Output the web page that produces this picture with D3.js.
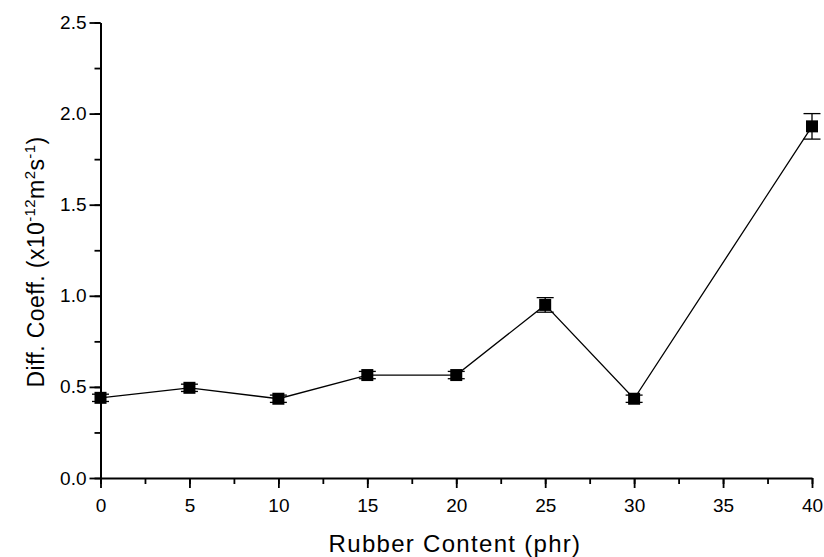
<!DOCTYPE html>
<html>
<head>
<meta charset="utf-8">
<script src="https://cdn.jsdelivr.net/npm/d3@7"></script>
<style>
  body { margin: 0; background: #fff; }
  text { font-family: "Liberation Sans", Arial, sans-serif; fill: #000; }
</style>
</head>
<body>
<svg id="canvas" width="824" height="557"></svg>
<script>
// data
const rubber = [0, 5, 10, 15, 20, 25, 30, 40];
const diffCoeff = [0.44, 0.495, 0.435, 0.565, 0.565, 0.95, 0.435, 1.93];
const errBar = [0.02, 0.02, 0.02, 0.02, 0.02, 0.04, 0.02, 0.07];
const xTicks = [0, 5, 10, 15, 20, 25, 30, 35, 40];
const yTicks = [0.0, 0.5, 1.0, 1.5, 2.0, 2.5];

const svg = d3.select('#canvas');
const x = d3.scaleLinear().domain([0, 40]).range([100.5, 812]);
const y = d3.scaleLinear().domain([0, 2.5]).range([478, 22.5]);

// minor ticks first
svg.append('g')
    .attr('transform', 'translate(0,478)')
    .call(d3.axisBottom(x).tickValues(d3.range(0, 40.1, 2.5)).tickSize(6).tickFormat(''))
    .call(g => g.select('.domain').remove());
svg.append('g')
    .attr('transform', 'translate(100.5,0)')
    .call(d3.axisLeft(y).tickValues(d3.range(0, 2.51, 0.25)).tickSize(6).tickFormat(''))
    .call(g => g.select('.domain').remove());

const xAxis = svg.append('g')
    .attr('transform', 'translate(0,478)')
    .call(d3.axisBottom(x).tickValues(xTicks).tickSize(10).tickSizeOuter(0).tickPadding(11).tickFormat(d3.format('d')));
const yAxis = svg.append('g')
    .attr('transform', 'translate(100.5,0)')
    .call(d3.axisLeft(y).tickValues(yTicks).tickSize(11).tickSizeOuter(0).tickPadding(3).tickFormat(d3.format('.1f')));

[xAxis, yAxis].forEach(a => {
    a.selectAll('text').style('font-size', '19px').attr('font-family', null);
    a.select('.domain').attr('stroke-width', 2);
});
svg.selectAll('g .tick line').attr('stroke-width', 1.8);

// line
svg.append('path')
    .datum(rubber.map((r, i) => [r, diffCoeff[i]]))
    .attr('fill', 'none')
    .attr('stroke', '#000')
    .attr('stroke-width', 1.3)
    .attr('d', d3.line().x(d => x(d[0])).y(d => y(d[1])));

// error bars
const eb = svg.append('g').selectAll('g')
    .data(rubber.map((r, i) => ({r, v: diffCoeff[i], e: errBar[i]})))
    .join('g');
eb.append('line')
    .attr('x1', d => x(d.r)).attr('x2', d => x(d.r))
    .attr('y1', d => y(d.v - d.e)).attr('y2', d => y(d.v + d.e))
    .attr('stroke', '#000').attr('stroke-width', 1.3);
['-', '+'].forEach(s => {
    eb.append('line')
        .attr('x1', d => x(d.r) - 8.5).attr('x2', d => x(d.r) + 8.5)
        .attr('y1', d => y(s === '+' ? d.v + d.e : d.v - d.e))
        .attr('y2', d => y(s === '+' ? d.v + d.e : d.v - d.e))
        .attr('stroke', '#000').attr('stroke-width', 1.3);
});
eb.append('rect')
    .attr('x', d => x(d.r) - 6).attr('y', d => y(d.v) - 6)
    .attr('width', 12).attr('height', 12)
    .attr('fill', '#000');

// axis titles
svg.append('text')
    .attr('x', 455).attr('y', 552)
    .attr('text-anchor', 'middle')
    .style('font-size', '24px')
    .style('letter-spacing', '1.3px')
    .text('Rubber Content (phr)');

const yt = svg.append('text')
    .attr('transform', 'translate(44,262) rotate(-90)')
    .attr('text-anchor', 'middle')
    .style('font-size', '23px')
    .style('letter-spacing', '0.4px');
yt.append('tspan').text('Diff. Coeff. (x10');
yt.append('tspan').attr('dy', -9).style('font-size', '15px').text('-12');
yt.append('tspan').attr('dy', 9).text('m');
yt.append('tspan').attr('dy', -9).style('font-size', '15px').text('2');
yt.append('tspan').attr('dy', 9).text('s');
yt.append('tspan').attr('dy', -9).style('font-size', '15px').text('-1');
yt.append('tspan').attr('dy', 9).text(')');
</script>
</body>
</html>
